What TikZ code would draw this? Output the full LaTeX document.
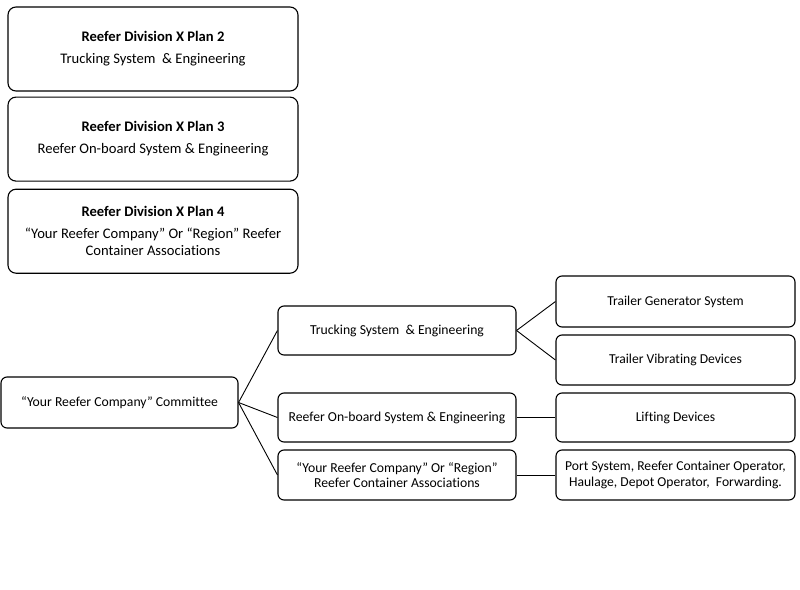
\documentclass[tikz,border=0pt]{standalone}
\usepackage{fontspec}
\setmainfont{Carlito}[Ligatures=NoCommon]
\usetikzlibrary{positioning}

\begin{document}
\begin{tikzpicture}[x=1pt,y=-1pt,
plan/.style={
rectangle,minimum width=290pt,minimum height=84pt,rounded corners=8pt, % upper boxes
line width=1.1pt,draw=black,fill=white,
align=center,font=\fontsize{14.6}{17}\selectfont},
unit/.style={
rectangle,minimum width=238pt,minimum height=49pt,rounded corners=6pt,
line width=1.1pt,draw=black,fill=white,
align=center,font=\fontsize{13.7}{15.5}\selectfont}]

\tikzset{
  task/.style={unit,minimum width=239pt,minimum height=50pt,font=\fontsize{13.6}{15.5}\selectfont},
  every edge/.append style = {line width=0.9pt}
}

    \useasboundingbox (0,0) rectangle (800,589);

    \node[plan] at (153,49) (plan2) {\textbf{Reefer Division X Plan 2}\\[5pt]Trucking System\ \ \& Engineering};
    \node[plan, below=5pt of plan2] (plan3) {\textbf{Reefer Division X Plan 3}\\[5pt]Reefer On-board System \& Engineering};
    \node[plan, below=7pt of plan3] (plan4) {\textbf{Reefer Division X Plan 4}\\[5pt]“Your Reefer Company” Or “Region” Reefer\\Container Associations};

    \node[unit, minimum width=237pt, minimum height=51pt] at (119.5,402.5) (committee) {“Your Reefer Company” Committee};

    \node[unit] at (397,330.5) (trucking) {Trucking System\ \ \& Engineering};
    \node[unit] at (397,417.5) (onboard) {Reefer On-board System \& Engineering};
    \node[unit, minimum height=50pt] at (397,475) (assoc) {“Your Reefer Company” Or “Region”\\Reefer Container Associations};

    \node[task, minimum height=51pt] at (675.5,301.5) (generator) {Trailer Generator System};
    \node[task] at (675.5,360) (vibrating) {Trailer Vibrating Devices};
    \node[task, minimum height=49pt] at (675.5,417.5) (lifting) {Lifting Devices};
    \node[task] at (675.5,475) (port) {Port System, Reefer Container Operator,\\Haulage, Depot Operator,\ \ Forwarding.};

    \draw
        (committee.east) edge[] (trucking.west)
        (committee.east) edge[] (onboard.west)
        (committee.east) edge[] (assoc.west)
        (trucking.east) edge[] (generator.west)
        (trucking.east) edge[] (vibrating.west)
        (onboard) edge[] (lifting)
        (assoc) edge[] (port);

\end{tikzpicture}
\end{document}
